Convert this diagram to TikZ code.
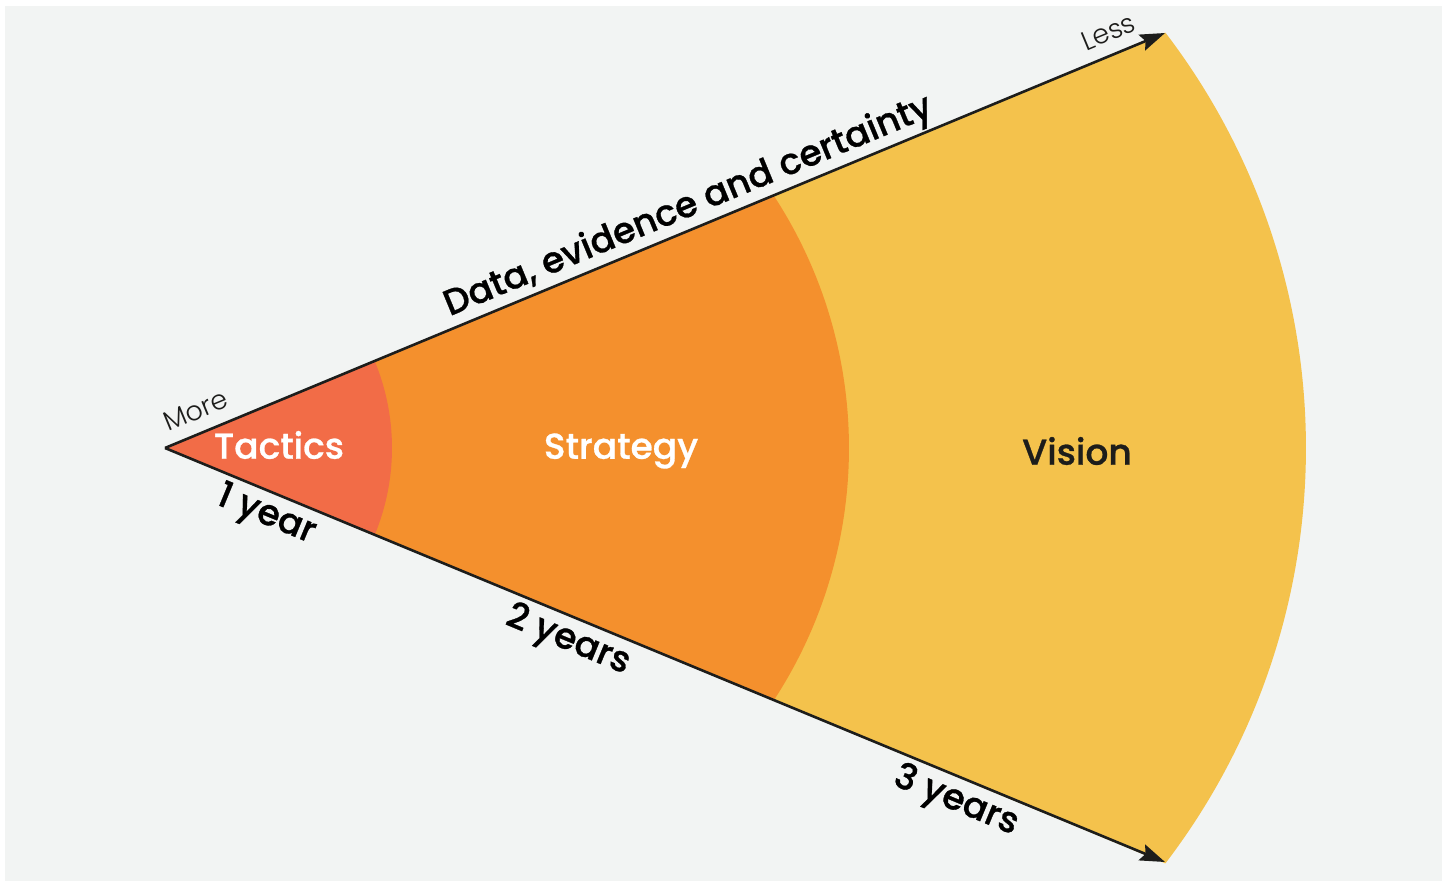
\documentclass[tikz,border=0pt]{standalone}
\usepackage{fontspec}
\setmainfont{Poppins}
\newfontfamily\labelfont{Poppins}[UprightFont=* Medium, FakeBold=0.8, UprightFeatures={FakeBold=0.8}]
\newfontfamily\thinfont{Poppins}[UprightFont=* Light]
\usetikzlibrary{arrows.meta,calc}

\definecolor{paper}{HTML}{F2F4F3}
\definecolor{tacticsfill}{HTML}{F26C47}
\definecolor{strategyfill}{HTML}{F4902D}
\definecolor{visionfill}{HTML}{F4C24C}
\definecolor{ink}{HTML}{1D1D1B}

\tikzset{
  axisline/.style={draw=ink, line width=2.6pt,
    -{Stealth[length=25pt,width=17pt,inset=4pt]}},
  zonelabel/.style={font=\labelfont\fontsize{36}{38}\selectfont},
  edgelabel/.style={font=\labelfont\fontsize{36}{38}\selectfont, text=black, inner sep=1pt},
  endlabel/.style={font=\thinfont\fontsize{27}{29}\selectfont, text=ink, inner sep=1pt},
}

\begin{document}
\begin{tikzpicture}[x=1pt,y=1pt]
  % page and panel
  \fill[white] (0,0) rectangle (1448,881);
  \fill[paper] (5,0) rectangle (1442,875);
  \useasboundingbox (0,0) rectangle (1448,881);

  % apex and the two arrow ends
  \coordinate (apex) at (165,433);
  \coordinate (top) at (1165,848);
  \coordinate (bottom) at (1165,19);

  % centres of the three boundary arcs
  \coordinate (cS) at (388,433);
  \coordinate (cV) at (622,433);

  % zones, drawn from the outside in
  \fill[visionfill] (apex) -- ($(cV)+(37.4:684)$)
      arc[start angle=37.4, end angle=-37.4, radius=684] -- cycle;
  \fill[strategyfill] (apex) -- ($(cS)+(33.24:461)$)
      arc[start angle=33.24, end angle=-33.24, radius=461] -- cycle;
  \fill[tacticsfill] (apex) -- ($(apex)+(22.54:227)$)
      arc[start angle=22.54, end angle=-22.54, radius=227] -- cycle;

  % the two axes
  \draw[axisline] (apex) -- (top);
  \draw[axisline] (apex) -- (bottom);

  % zone names
  \node[zonelabel, text=white] (tactics) at (279,436) {Tactics};
  \node[zonelabel, text=white] (strategy) at (621,430) {Strategy};
  \node[zonelabel, text=ink] (vision) at (1077,430) {Vision};

  % labels along the upper axis
  \path (apex) -- (top)
    node[endlabel, pos=0.008, sloped, above=12pt, anchor=south west] (more) {More}
    node[edgelabel, pos=0.532, sloped, above=2pt] (data) {Data, evidence and certainty}
    node[endlabel, pos=0.952, sloped, above=12pt] (less) {Less};

  % labels along the lower axis
  \path (apex) -- (bottom)
    node[edgelabel, pos=0.11, sloped, below=5pt] (oneyear) {1 year}
    node[edgelabel, pos=0.412, sloped, below=5pt] (twoyears) {2 years}
    node[edgelabel, pos=0.8, sloped, below=5pt] (threeyears) {3 years};
\end{tikzpicture}
\end{document}
